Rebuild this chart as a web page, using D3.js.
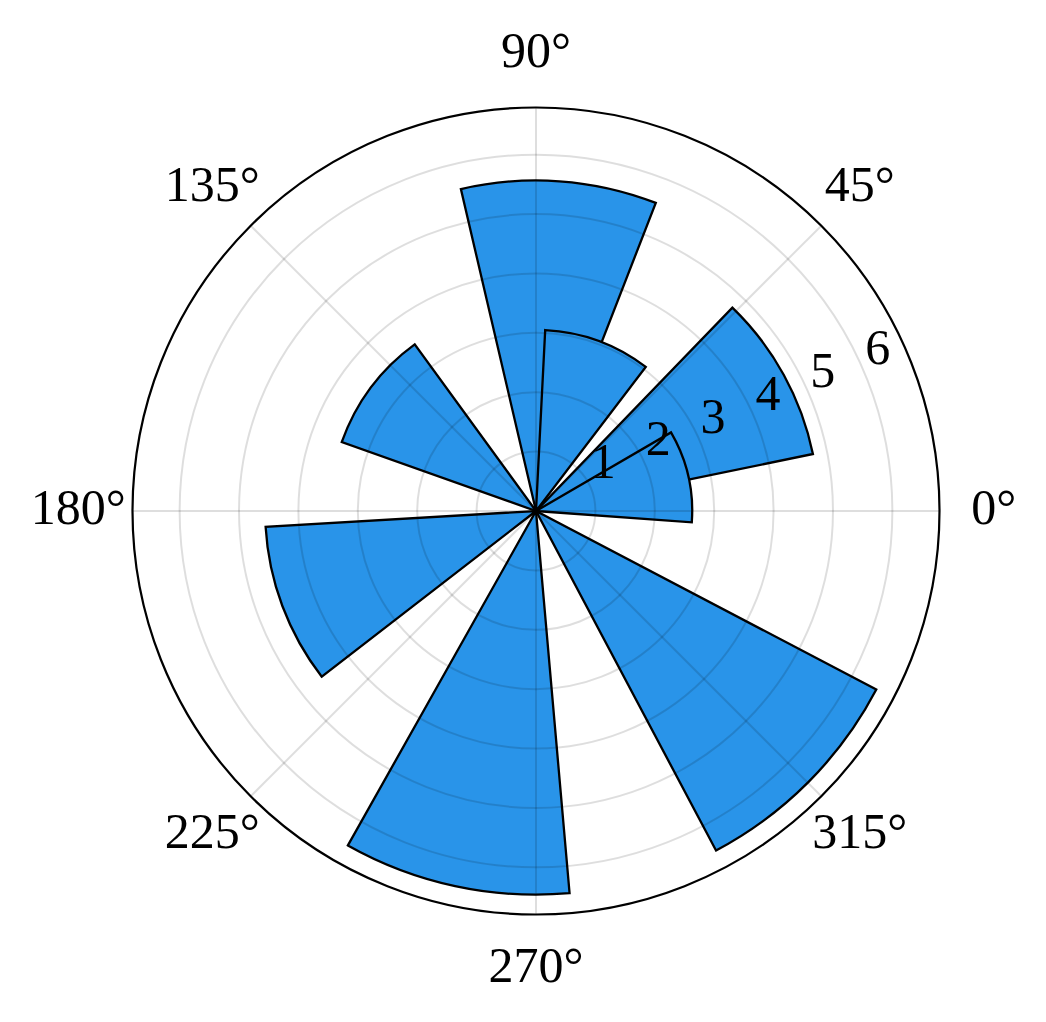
<!DOCTYPE html>
<html><head><meta charset="utf-8">
<script src="https://cdn.jsdelivr.net/npm/d3@7"></script>
<style>body{margin:0;background:#fff}svg{display:block}</style>
</head><body>
<svg id="chart" width="1046" height="1022"></svg>
<script>
// Bar centers (radians, counter-clockwise from east), in drawing order
const thetas = [0.503, 0.227, 1.5, 1.22, 2.5, 3.5, 4.5, 5.5];
const radii  = [4.76, 2.63, 5.565, 3.05, 3.47, 4.56, 6.46, 6.47];
const barWidth = 0.6; // radians
const rTicks = [1, 2, 3, 4, 5, 6];
const thetaTicks = [0, 45, 90, 135, 180, 225, 270, 315];

const cx = 536, cy = 511, R = 403.5;
const rmax = d3.max(radii) * 1.05;
const r = d3.scaleLinear().domain([0, rmax]).range([0, R]);
const svg = d3.select("#chart");
const g = svg.append("g").attr("transform", `translate(${cx},${cy})`);

const toXY = (deg, rad) => {
  const a = deg * Math.PI / 180;
  return [rad * Math.cos(a), -rad * Math.sin(a)];
};

// bars
const arc = d3.arc();
g.selectAll("path.bar").data(thetas.map((t, i) => ({t, v: radii[i]})))
  .enter().append("path").attr("class", "bar")
  .attr("d", d => arc({innerRadius: 0, outerRadius: r(d.v),
    startAngle: Math.PI / 2 - (d.t + barWidth / 2),
    endAngle: Math.PI / 2 - (d.t - barWidth / 2)}))
  .attr("fill", "#2994E9").attr("stroke", "#000").attr("stroke-width", 2.3)
  .attr("stroke-linejoin", "miter");

// grid
const grid = g.append("g").attr("stroke", "#000").attr("stroke-opacity", 0.13)
  .attr("stroke-width", 2).attr("fill", "none");
grid.selectAll("circle").data(rTicks).enter().append("circle").attr("r", d => r(d));
grid.selectAll("line").data(thetaTicks).enter().append("line")
  .attr("x1", 0).attr("y1", 0)
  .attr("x2", d => toXY(d, R)[0]).attr("y2", d => toXY(d, R)[1]);

// outer spine
g.append("circle").attr("r", R).attr("fill", "none").attr("stroke", "#000").attr("stroke-width", 2.2);

const font = "'Liberation Serif','Times New Roman',serif";
const fs = 50;
// theta labels
g.selectAll("text.th").data(thetaTicks).enter().append("text").attr("class", "th")
  .attr("x", d => toXY(d, 457.7)[0])
  .attr("y", d => toXY(d, 457.7)[1] - 3.3 + fs * 0.331)
  .attr("text-anchor", "middle").attr("font-family", font).attr("font-size", fs)
  .attr("fill", "#000").text(d => d + "\u00B0");

// r labels at 22.5°
g.selectAll("text.rl").data(rTicks).enter().append("text").attr("class", "rl")
  .attr("x", d => toXY(22.5, r(d))[0] + 12.4)
  .attr("y", d => toXY(22.5, r(d))[1] - 26.8 + fs * 0.331)
  .attr("text-anchor", "middle").attr("font-family", font).attr("font-size", fs)
  .attr("fill", "#000").text(d => d);
</script>
</body></html>
